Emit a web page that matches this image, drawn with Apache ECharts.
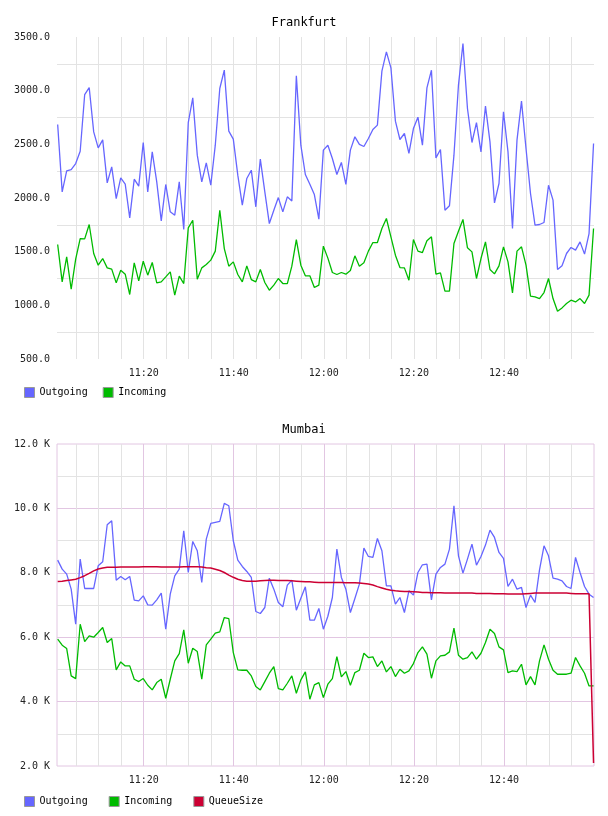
<!DOCTYPE html>
<html><head><meta charset="utf-8">
<script src="https://cdn.jsdelivr.net/npm/echarts@6/dist/echarts.min.js"></script>
<style>html,body{margin:0;padding:0;background:#fff}#c{width:608px;height:816px}</style>
</head><body><div id="c"></div>
<script>
// time of first sample, and axis extent (HH:MM:SS)
const firstSample = '11:00:54';
const axisStart = '11:00:45';
const axisEnd = '13:00:00';
const stepMinutes = 1;

const frankfurtOutgoing = [2685,2057,2253,2265,2321,2436,2964,3029,2616,2467,
2542,2141,2290,1995,2188,2129,1815,2175,2110,2517,
2057,2430,2150,1787,2126,1871,1840,2150,1706,2703,
2933,2399,2150,2328,2119,2492,3020,3191,2623,2548,
2213,1933,2182,2259,1918,2362,2057,1762,1886,2004,
1871,2011,1973,3138,2492,2219,2129,2032,1803,2446,
2492,2368,2219,2331,2126,2446,2570,2499,2480,2554,
2638,2679,3182,3362,3213,2716,2545,2601,2415,2647,
2753,2492,3026,3191,2374,2452,1886,1927,2399,3051,
3439,2834,2517,2703,2430,2856,2523,1955,2135,2803,
2430,1716,2539,2902,2461,2042,1747,1753,1772,2119,
1980,1334,1368,1483,1539,1514,1591,1477,1669,2508];

const frankfurtIncoming = [1567,1219,1452,1150,1430,1622,1619,1753,1483,1374,
1436,1349,1337,1209,1327,1290,1101,1396,1228,1411,
1281,1399,1209,1219,1265,1312,1095,1272,1203,1722,
1793,1244,1349,1380,1421,1505,1886,1529,1365,1405,
1287,1219,1368,1240,1219,1334,1213,1141,1188,1250,
1203,1203,1365,1613,1374,1275,1275,1166,1188,1551,
1440,1306,1287,1306,1290,1324,1461,1365,1396,1505,
1585,1585,1716,1809,1638,1467,1352,1349,1234,1613,
1505,1492,1601,1638,1290,1303,1132,1132,1576,1691,
1800,1536,1498,1250,1436,1591,1334,1293,1368,1545,
1405,1116,1505,1545,1374,1085,1079,1063,1119,1250,
1063,945,976,1017,1048,1032,1063,1017,1095,1716];

const mumbaiOutgoing = [8394,8114,7959,7492,6404,8425,7513,7513,7513,8218,
8342,9492,9617,7772,7886,7782,7886,7150,7130,7285,
7005,6995,7161,7368,6249,7337,7907,8114,9306,8010,
8974,8684,7699,9047,9534,9565,9596,10155,10083,8995,
8394,8197,8041,7855,6798,6736,6922,7834,7492,7078,
6943,7617,7772,6839,7212,7565,6528,6528,6891,6249,
6650,7233,8736,7855,7492,6767,7202,7648,8767,8508,
8477,9067,8684,7596,7596,7026,7233,6767,7440,7306,
8010,8249,8269,7161,7959,8166,8269,8736,10083,8528,
7990,8425,8891,8238,8508,8860,9326,9098,8632,8446,
7575,7803,7492,7544,6922,7306,7078,8093,8839,8528,
7834,7803,7751,7575,7513,8477,8010,7575,7337,7233];

const mumbaiIncoming = [5938,5751,5648,4798,4715,6404,5865,6041,6000,6145,
6301,5834,5959,4984,5233,5109,5109,4694,4622,4715,
4508,4363,4591,4694,4104,4694,5264,5492,6228,5192,
5658,5554,4694,5762,5938,6124,6166,6611,6580,5523,
4984,4974,4974,4798,4466,4363,4622,4881,5088,4404,
4363,4570,4798,4259,4674,4922,4073,4518,4591,4124,
4540,4715,5399,4767,4933,4508,4902,4974,5502,5368,
5389,5088,5264,4922,5088,4777,5005,4881,4953,5181,
5523,5699,5472,4725,5264,5420,5440,5544,6280,5440,
5316,5368,5544,5316,5502,5834,6249,6114,5699,5606,
4902,4953,4933,5161,4518,4777,4518,5264,5762,5316,
4974,4850,4850,4850,4881,5368,5109,4881,4487,4487];

const mumbaiQueueSize = [7731,7740,7760,7780,7800,7850,7910,7980,8060,8120,
8150,8170,8170,8170,8180,8180,8180,8180,8180,8190,
8190,8190,8190,8180,8180,8180,8180,8180,8190,8190,
8190,8190,8180,8160,8150,8110,8070,8010,7930,7860,
7800,7760,7740,7740,7740,7750,7760,7770,7770,7760,
7760,7760,7750,7740,7730,7720,7720,7710,7700,7700,
7700,7700,7700,7700,7690,7690,7690,7680,7670,7650,
7620,7570,7530,7490,7460,7440,7430,7420,7420,7410,
7400,7390,7390,7380,7380,7380,7370,7370,7370,7370,
7370,7370,7370,7360,7360,7360,7360,7350,7350,7350,
7340,7340,7340,7340,7350,7360,7370,7370,7370,7370,
7370,7370,7370,7370,7360,7350,7350,7350,7350,2090];

const titles = ['Frankfurt', 'Mumbai'];
const legendTop = ['Outgoing', 'Incoming'];
const legendBottom = ['Outgoing', 'Incoming', 'QueueSize'];

const toMin = s => { const p = s.split(':').map(Number); return p[0]*60 + p[1] + (p[2]||0)/60; };
const t0 = toMin(firstSample);
const xMin = toMin(axisStart), xMax = toMin(axisEnd);
const pts = arr => arr.map((v, i) => [t0 + i*stepMinutes, v]);
const pad = n => (n < 10 ? '0' : '') + n;
const timeFmt = v => { const r = Math.round(v); if (Math.abs(v - r) > 1e-6 || r % 20 !== 0) return ''; return pad(Math.floor(r/60)) + ':' + pad(r % 60); };

const FONT = 'DejaVu Sans Mono';
const GRAY = '#e3e3e3', PINK = '#e2c6e2';
const C_OUT = '#6666ff', C_IN = '#00bb00', C_Q = '#cc0033';

const lbl = { fontFamily: FONT, fontSize: 10, color: '#222' };

function xAxis(grid, colors) {
  return {
    type: 'value', gridIndex: grid, min: xMin, max: xMax, minInterval: 5, maxInterval: 5,
    axisLine: { show: false }, axisTick: { show: false },
    axisLabel: Object.assign({ formatter: timeFmt, margin: 9, showMinLabel: false, showMaxLabel: false }, lbl),
    splitLine: { show: true, showMinLine: false, showMaxLine: false, lineStyle: { color: colors, width: 1 } }
  };
}

const option = {
  animation: false,
  backgroundColor: '#fff',
  title: titles.map((t, i) => ({
    text: t, left: 'center', top: i === 0 ? 12 : 419,
    textStyle: { fontFamily: FONT, fontSize: 12, fontWeight: 'normal', color: '#000' }
  })),
  legend: [
    { data: legendTop, left: 24, top: 387, orient: 'horizontal', icon: 'rect', itemWidth: 10, itemHeight: 10, itemGap: 15, padding: 0,
      itemStyle: { borderColor: '#999', borderWidth: 1 }, textStyle: { fontFamily: FONT, fontSize: 10, color: '#000' }, selectedMode: false },
    { data: legendBottom, left: 24, top: 796, orient: 'horizontal', icon: 'rect', itemWidth: 10, itemHeight: 10, itemGap: 21, padding: 0,
      itemStyle: { borderColor: '#999', borderWidth: 1 }, textStyle: { fontFamily: FONT, fontSize: 10, color: '#000' }, selectedMode: false }
  ],
  grid: [
    { left: 57, top: 37, width: 537, height: 322, show: false },
    { left: 57, top: 444, width: 537, height: 322, show: true, borderColor: PINK, borderWidth: 1, backgroundColor: 'rgba(0,0,0,0)' }
  ],
  xAxis: [ xAxis(0, [GRAY]), xAxis(1, [GRAY, GRAY, GRAY, PINK]) ],
  yAxis: [
    { type: 'value', gridIndex: 0, min: 500, max: 3500, interval: 250,
      axisLine: { show: false }, axisTick: { show: false },
      axisLabel: Object.assign({ margin: 7, formatter: v => (v % 500 === 0 ? v.toFixed(1) : '') }, lbl),
      splitLine: { show: true, showMinLine: false, showMaxLine: false, lineStyle: { color: [GRAY, 'rgba(0,0,0,0)'], width: 1 } } },
    { type: 'value', gridIndex: 1, min: 2000, max: 12000, interval: 1000,
      axisLine: { show: false }, axisTick: { show: false },
      axisLabel: Object.assign({ margin: 7, formatter: v => (v % 2000 === 0 ? (v/1000).toFixed(1) + ' K' : '') }, lbl),
      splitLine: { show: true, showMinLine: false, showMaxLine: false, lineStyle: { color: [GRAY, PINK], width: 1 } } }
  ],
  series: [
    { name: 'Outgoing', type: 'line', xAxisIndex: 0, yAxisIndex: 0, data: pts(frankfurtOutgoing), showSymbol: false, color: C_OUT, lineStyle: { width: 1.3, color: C_OUT } },
    { name: 'Incoming', type: 'line', xAxisIndex: 0, yAxisIndex: 0, data: pts(frankfurtIncoming), showSymbol: false, color: C_IN, lineStyle: { width: 1.3, color: C_IN } },
    { name: 'Outgoing', type: 'line', xAxisIndex: 1, yAxisIndex: 1, data: pts(mumbaiOutgoing), showSymbol: false, color: C_OUT, lineStyle: { width: 1.3, color: C_OUT } },
    { name: 'Incoming', type: 'line', xAxisIndex: 1, yAxisIndex: 1, data: pts(mumbaiIncoming), showSymbol: false, color: C_IN, lineStyle: { width: 1.3, color: C_IN } },
    { name: 'QueueSize', type: 'line', xAxisIndex: 1, yAxisIndex: 1, data: pts(mumbaiQueueSize), showSymbol: false, color: C_Q, lineStyle: { width: 1.5, color: C_Q } }
  ]
};
const chart = echarts.init(document.getElementById('c'), null, { renderer: 'canvas' });
chart.setOption(option);
</script></body></html>
